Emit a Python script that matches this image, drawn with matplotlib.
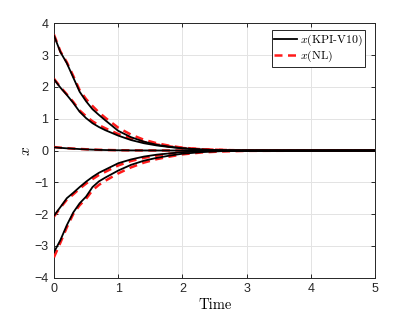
import matplotlib
matplotlib.use("Agg")
import matplotlib.pyplot as plt
import numpy as np

plt.rcParams['mathtext.fontset'] = 'cm'
plt.rcParams['font.family'] = ['Liberation Sans', 'DejaVu Sans']

t = [0, 0.1, 0.2, 0.3, 0.4, 0.5, 0.6, 0.7, 0.8, 1.0, 1.2, 1.4, 1.6, 1.8, 2.0, 2.3, 2.6, 3.0, 5.0]

kpi_a = [3.62, 3.10, 2.75, 2.30, 1.85, 1.55, 1.30, 1.12, 0.95, 0.62, 0.42, 0.28, 0.18, 0.12, 0.07, 0.03, 0.01, 0.0, 0.0]
nl_a = [3.65, 3.12, 2.78, 2.35, 1.90, 1.62, 1.40, 1.20, 1.03, 0.72, 0.50, 0.34, 0.23, 0.15, 0.09, 0.04, 0.02, 0.0, 0.0]
kpi_b = [2.24, 1.98, 1.75, 1.50, 1.22, 1.02, 0.86, 0.74, 0.64, 0.47, 0.33, 0.23, 0.16, 0.11, 0.07, 0.03, 0.01, 0.0, 0.0]
nl_b = [2.26, 2.00, 1.77, 1.53, 1.26, 1.08, 0.92, 0.80, 0.70, 0.52, 0.38, 0.27, 0.19, 0.13, 0.08, 0.04, 0.02, 0.0, 0.0]
kpi_c = [0.10, 0.085, 0.07, 0.058, 0.046, 0.036, 0.028, 0.021, 0.016, 0.009, 0.005, 0.003, 0.002, 0.001, 0.0, 0.0, 0.0, 0.0, 0.0]
nl_c = [0.11, 0.09, 0.075, 0.062, 0.05, 0.04, 0.031, 0.024, 0.018, 0.01, 0.006, 0.004, 0.002, 0.001, 0.0, 0.0, 0.0, 0.0, 0.0]
kpi_d = [-2.05, -1.78, -1.50, -1.33, -1.15, -0.98, -0.83, -0.70, -0.60, -0.40, -0.28, -0.19, -0.13, -0.09, -0.05, -0.02, -0.01, 0.0, 0.0]
nl_d = [-2.08, -1.80, -1.55, -1.38, -1.20, -1.04, -0.90, -0.77, -0.67, -0.47, -0.33, -0.23, -0.16, -0.10, -0.06, -0.03, -0.01, 0.0, 0.0]
kpi_e = [-3.20, -2.82, -2.35, -1.95, -1.66, -1.45, -1.15, -0.97, -0.85, -0.63, -0.45, -0.32, -0.23, -0.16, -0.10, -0.05, -0.02, -0.01, 0.0]
nl_e = [-3.36, -2.90, -2.42, -2.00, -1.72, -1.52, -1.25, -1.08, -0.95, -0.72, -0.53, -0.38, -0.27, -0.19, -0.12, -0.06, -0.03, -0.01, 0.0]

kpi_series = [kpi_a, kpi_b, kpi_c, kpi_d, kpi_e]
nl_series = [nl_a, nl_b, nl_c, nl_d, nl_e]

x_ticks = [0, 1, 2, 3, 4, 5]
y_ticks = [-4, -3, -2, -1, 0, 1, 2, 3, 4]

fig = plt.figure(figsize=(4.15, 3.12), dpi=100)
ax = fig.add_axes([0.130, 0.110, 0.774, 0.815])

for i, (k, n) in enumerate(zip(kpi_series, nl_series)):
    ax.plot(t, n, color='#ff1a1a', lw=1.8, ls=(0, (3.2, 2.2)), zorder=3,
            label=r'$x$(NL)' if i == 0 else None)
    ax.plot(t, k, color='black', lw=1.3, zorder=4,
            label=r'$x$(KPI-V10)' if i == 0 else None)

ax.set_xlim(0, 5)
ax.set_ylim(-4, 4)
ax.set_xticks(x_ticks)
ax.set_yticks(y_ticks)
ax.grid(True, color='#e3e3e3', lw=0.7)
ax.set_axisbelow(True)
for s in ax.spines.values():
    s.set_color('#262626')
    s.set_linewidth(0.7)
ax.tick_params(direction='in', length=3, width=0.7, colors='#262626',
               labelsize=9, top=True, right=True, pad=4)

ax.set_xlabel('Time', fontsize=10.5, labelpad=2, family='cmr10')
ax.set_ylabel(r'$x$', fontsize=11, labelpad=1)

handles, labels = ax.get_legend_handles_labels()
order = [1, 0]
leg = ax.legend([handles[i] for i in order], [labels[i] for i in order],
                loc='upper right', bbox_to_anchor=(0.975, 0.982),
                prop={'family': 'cmr10', 'size': 8.5},
                frameon=True, fancybox=False, handlelength=1.9,
                handletextpad=0.25, borderpad=0.2, labelspacing=0.1,
                borderaxespad=0.2, framealpha=1)
leg.get_frame().set_edgecolor('#262626')
leg.get_frame().set_linewidth(0.7)

fig.savefig('out.png', dpi=100)
